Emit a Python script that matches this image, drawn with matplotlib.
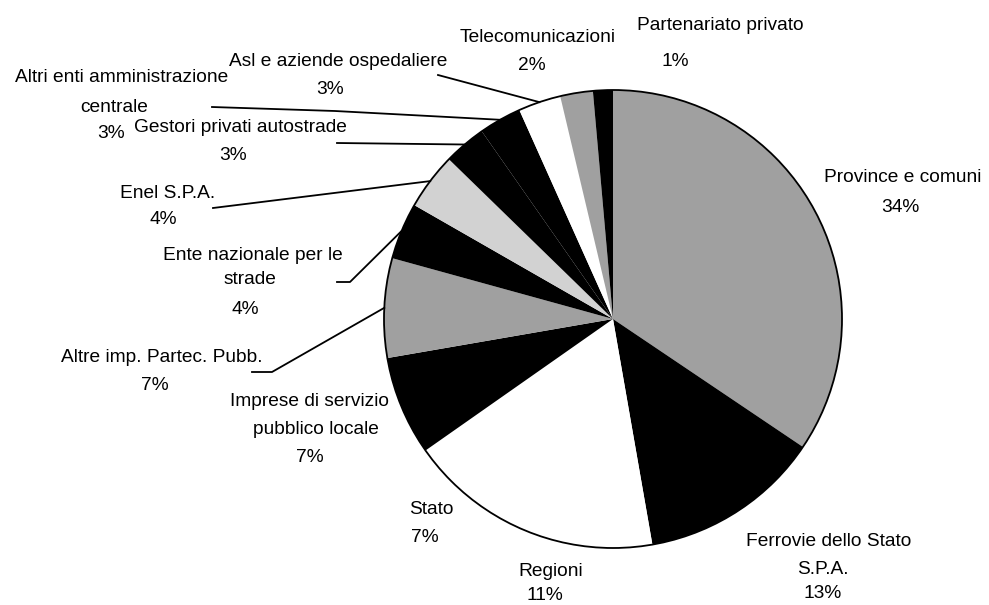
import numpy as np
import matplotlib
matplotlib.use("Agg")
import matplotlib.pyplot as plt
from matplotlib.patches import Circle

plt.rcParams['font.family'] = ['Liberation Sans', 'DejaVu Sans']

# ---- data (clockwise from 12 o'clock) ----
categories = [
    "Province e comuni",
    "Ferrovie dello Stato\nS.P.A.",
    "Regioni",
    "Stato",
    "Imprese di servizio\npubblico locale",
    "Altre imp. Partec. Pubb.",
    "Ente nazionale per le\nstrade",
    "Enel S.P.A.",
    "Gestori privati autostrade",
    "Altri enti amministrazione\ncentrale",
    "Asl e aziende ospedaliere",
    "Telecomunicazioni",
    "Partenariato privato",
]
values = [34.4, 12.8, 11.0, 7.0, 7.0, 7.0, 4.0, 4.0, 3.0, 3.0, 3.0, 2.3, 1.4]
pct_labels = ["34%", "13%", "11%", "7%", "7%", "7%", "4%", "4%", "3%", "3%", "3%", "2%", "1%"]

GRAY = "#a0a0a0"
LIGHT = "#d2d2d2"
colors = [GRAY, "black", "white", "white", "black", GRAY, "black", LIGHT,
          "black", "black", "white", GRAY, "black"]

# ---- layout (pixel coordinates, y from top) ----
W, H = 989, 605
CX, CY, R = 613, 319, 229

line_pos = {
    0: [(903, 177), (900, 207)],
    1: [(829, 542), (823, 569), (823, 594)],
    2: [(551, 571), (545, 595)],
    3: [(431, 510), (425, 537)],
    4: [(310, 402), (316, 430), (310, 458)],
    5: [(162, 358), (155, 386)],
    6: [(253, 255), (250, 280), (245, 309)],
    7: [(168, 193), (163, 220)],
    8: [(240, 127), (233, 155)],
    9: [(122, 78), (114, 107), (111, 133)],
    10: [(338, 62), (330, 89)],
    11: [(538, 37), (532, 65)],
    12: [(720, 26), (675, 61)],
}
leaders = {
    5: [(252, 372), (272, 372)],
    6: [(337, 282), (350, 282)],
    7: [(213, 208)],
    8: [(337, 143)],
    9: [(212, 107), (335, 111)],
    10: [(438, 75)],
}

fig = plt.figure(figsize=(W / 100, H / 100), dpi=100)
ax = fig.add_axes([0, 0, 1, 1])

def Y(y):
    return H - y

wedges, _ = ax.pie(values, colors=colors, startangle=90, counterclock=False,
                   center=(CX, Y(CY)), radius=R,
                   wedgeprops=dict(linewidth=0, edgecolor="none"))
ax.add_patch(Circle((CX, Y(CY)), R, fill=False, lw=1.3, ec="black", zorder=3))

for i, cat in enumerate(categories):
    lines = cat.split("\n") + [pct_labels[i]]
    for (x, y), t in zip(line_pos[i], lines):
        ax.text(x, Y(y), t, ha="center", va="center", fontsize=13.8, color="black")

for i, pts in leaders.items():
    w = wedges[i]
    mid = np.deg2rad((w.theta1 + w.theta2) / 2)
    ex, ey = CX + R * np.cos(mid), Y(CY) + R * np.sin(mid)
    xs = [p[0] for p in pts] + [ex]
    ys = [Y(p[1]) for p in pts] + [ey]
    ax.plot(xs, ys, color="black", lw=1.3, zorder=4)

ax.set_xlim(0, W)
ax.set_ylim(0, H)
ax.set_aspect("auto")
ax.axis("off")
fig.savefig("out.png", dpi=100, facecolor="white")
